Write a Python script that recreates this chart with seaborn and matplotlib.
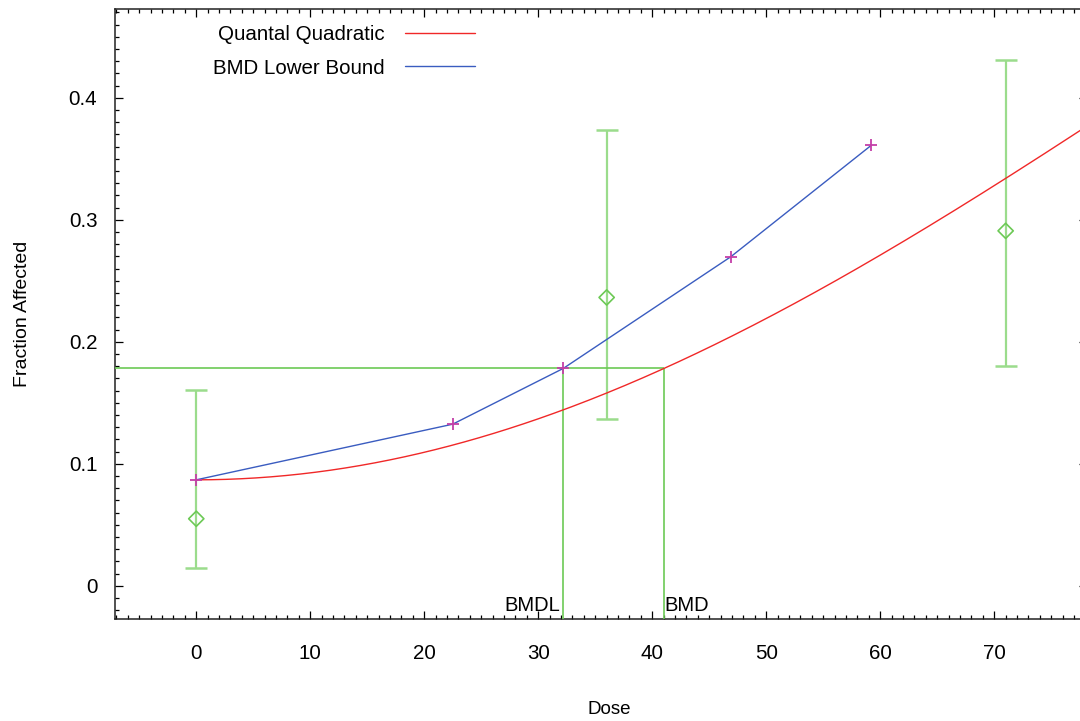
import numpy as np
import pandas as pd
import seaborn as sns
import matplotlib
matplotlib.use("Agg")
import matplotlib.pyplot as plt
from matplotlib.ticker import MultipleLocator, FuncFormatter
from matplotlib.lines import Line2D

# Observed dose groups: fraction affected with confidence limits
doses = [0, 36, 71]
frac_affected = [0.0549, 0.2363, 0.2909]
ci_lower = [0.0142, 0.1365, 0.1804]
ci_upper = [0.1605, 0.3733, 0.4306]

# Lower-bound curve points
lb_doses = [0, 22.49, 32.19, 46.88, 59.21]
lb_values = [0.0868, 0.1324, 0.1781, 0.2696, 0.3610]

# Quantal quadratic fit: background and benchmark results (10% extra risk)
background = 0.0868
bmr = 0.10
bmd = 41.03
bmdl = 32.19
beta = -np.log(1 - bmr) / bmd ** 2
bmr_level = background + (1 - background) * bmr

x_range = (-7.1, 78.1)
y_range = (-0.0275, 0.4725)

RED = "#f02828"
BLUE = "#3a5cc0"
GREEN = "#6cc955"
GREEN_LIGHT = "#9bdc8c"
MAGENTA = "#c43fa8"

sns.set_theme(style="ticks")
plt.rcParams["font.family"] = ["Liberation Sans", "DejaVu Sans"]
plt.rcParams.update({"text.color": "black", "axes.labelcolor": "black",
                     "xtick.color": "black", "ytick.color": "black"})

fig = plt.figure(figsize=(10.8, 7.21), dpi=100)
ax = fig.add_axes([0.1068, 0.1411, 0.8993, 0.8460])

# Model curve
curve_x = np.linspace(0, x_range[1], 300)
curve_df = pd.DataFrame({
    "dose": curve_x,
    "p": background + (1 - background) * (1 - np.exp(-beta * curve_x ** 2)),
})
sns.lineplot(data=curve_df, x="dose", y="p", color=RED, lw=1.0, ax=ax, zorder=4)

# Lower bound line with cross markers
lb_df = pd.DataFrame({"dose": lb_doses, "p": lb_values})
sns.lineplot(data=lb_df, x="dose", y="p", color=BLUE, lw=1.0, ax=ax, zorder=4)
sns.scatterplot(data=lb_df, x="dose", y="p", marker="+", color=MAGENTA,
                s=80, linewidth=1.3, ax=ax, zorder=5)

# Benchmark guide lines
ax.hlines(bmr_level, x_range[0], bmd, color=GREEN, lw=1.2, zorder=3)
ax.vlines([bmdl, bmd], y_range[0], bmr_level, color=GREEN, lw=1.2, zorder=3)

# Observed data with error bars
yerr = [np.array(frac_affected) - np.array(ci_lower),
        np.array(ci_upper) - np.array(frac_affected)]
ax.errorbar(doses, frac_affected, yerr=yerr, fmt="none", ecolor=GREEN_LIGHT,
            elinewidth=1.6, capsize=8, capthick=1.8, zorder=2)
obs_df = pd.DataFrame({"dose": doses, "p": frac_affected})
sns.scatterplot(data=obs_df, x="dose", y="p", marker="D", s=60,
                facecolor="none", edgecolor=GREEN, linewidth=1.2, ax=ax, zorder=3)

ax.annotate("BMDL", xy=(bmdl, 0), xycoords=("data", "axes fraction"),
            xytext=(-2, 3), textcoords="offset points",
            ha="right", va="bottom", fontsize=14.5, color="black")
ax.annotate("BMD", xy=(bmd, 0), xycoords=("data", "axes fraction"),
            xytext=(0, 3), textcoords="offset points",
            ha="left", va="bottom", fontsize=14.5, color="black")

ax.set_xlim(*x_range)
ax.set_ylim(*y_range)
ax.xaxis.set_major_locator(MultipleLocator(10))
ax.xaxis.set_minor_locator(MultipleLocator(1))
ax.yaxis.set_major_locator(MultipleLocator(0.1))
ax.yaxis.set_minor_locator(MultipleLocator(0.01))
ax.yaxis.set_major_formatter(FuncFormatter(lambda v, p: "0" if abs(v) < 1e-9 else f"{v:.1f}"))

ax.tick_params(which="both", direction="in", top=True, right=True,
               color="black", width=0.9)
ax.tick_params(which="major", length=6)
ax.tick_params(which="minor", length=3)
ax.tick_params(axis="x", which="major", pad=18, labelsize=14.8)
ax.tick_params(axis="y", which="major", pad=13, labelsize=14.8)
for s in ax.spines.values():
    s.set_color("#222222")
    s.set_linewidth(1.1)

ax.set_xlabel("Dose", fontsize=13.5, labelpad=27)
ax.set_ylabel("Fraction Affected", fontsize=14, labelpad=27)
ax.xaxis.label.set_x(0.5088)

handles = [Line2D([], [], color=RED, lw=1.0),
           Line2D([], [], color=BLUE, lw=1.0)]
ax.legend(handles, ["Quantal Quadratic", "BMD Lower Bound"],
          loc="upper right", bbox_to_anchor=(0.3703, 0.974),
          frameon=False, markerfirst=False, fontsize=14.8,
          handlelength=3.4, handletextpad=1.0, labelspacing=0.7,
          borderpad=0, borderaxespad=0)

fig.savefig("out.png", dpi=100)
